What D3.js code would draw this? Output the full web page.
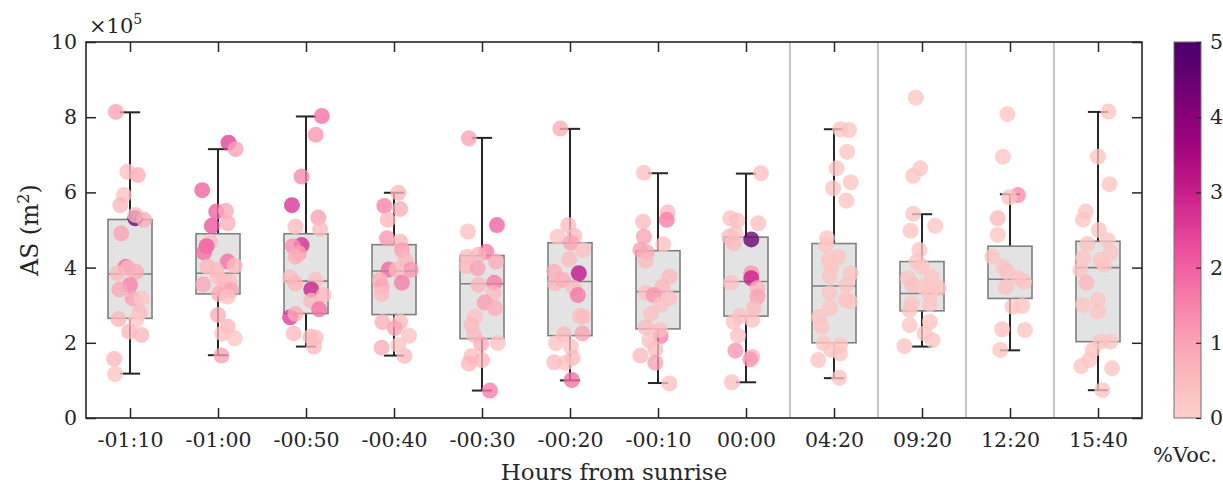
<!DOCTYPE html>
<html><head><meta charset="utf-8">
<script src="https://cdn.jsdelivr.net/npm/d3@7"></script>
<style>body{margin:0;background:#fff}svg{display:block}text{font-family:"DejaVu Serif","Liberation Serif",serif;fill:#262626}</style>
</head><body><svg id="c" width="1223" height="486"></svg>
<script>
const categories = ["-01:10","-01:00","-00:50","-00:40","-00:30","-00:20","-00:10","00:00","04:20","09:20","12:20","15:40"];
const yTicks = [0,2,4,6,8,10];
const cbTicks = [0,1,2,3,4,5];
// box statistics (x1e5 m^2)
const whiskerLow  = [1.18,1.67,1.90,1.66,0.73,1.00,0.93,0.95,1.06,1.90,1.80,0.74];
const q1          = [2.65,3.30,2.78,2.75,2.11,2.19,2.37,2.71,2.00,2.85,3.18,2.03];
const median      = [3.83,3.85,3.64,3.91,3.57,3.63,3.36,3.63,3.51,3.31,3.69,4.00];
const q3          = [5.28,4.90,4.90,4.61,4.32,4.66,4.45,4.81,4.64,4.16,4.57,4.70];
const whiskerHigh = [8.13,7.15,8.02,5.99,7.45,7.69,6.51,6.50,7.68,5.42,5.95,8.14];
// points per category: [jitter (category units), AS (x1e5), %Voc]
const pts0 = [[-0.16,8.14,1.0],[-0.03,6.55,0.4],[0.09,6.46,0.8],[-0.07,5.93,0.4],[-0.11,5.66,0.6],[0.06,5.31,4.5],[0.06,5.40,0.5],[0.16,5.27,0.8],[-0.10,4.91,1.0],[-0.05,4.02,1.8],[-0.02,3.99,0.6],[-0.14,3.85,0.5],[0.07,3.89,0.8],[0.00,3.54,1.5],[-0.12,3.42,0.9],[0.03,3.18,1.0],[0.13,3.18,0.3],[0.11,2.80,0.5],[-0.13,2.63,0.6],[0.07,2.61,0.2],[-0.01,2.30,0.6],[0.13,2.21,0.6],[-0.18,1.57,0.6],[-0.17,1.17,0.3]];
const pts1 = [[0.12,7.32,2.5],[0.20,7.15,1.0],[-0.18,6.06,2.0],[-0.02,5.49,2.0],[0.09,5.51,0.9],[0.11,5.18,0.8],[-0.07,5.11,2.2],[-0.09,4.69,0.5],[-0.13,4.57,2.1],[-0.16,4.40,1.8],[0.11,4.16,1.8],[0.19,4.05,0.5],[-0.12,4.02,0.6],[-0.02,3.94,0.5],[-0.17,3.55,0.9],[0.00,3.76,0.4],[0.07,3.63,0.5],[0.13,3.63,0.4],[0.05,3.40,0.6],[0.15,3.40,1.0],[0.01,3.30,0.8],[0.11,3.23,0.4],[0.00,2.74,0.8],[0.11,2.43,0.6],[0.05,2.25,0.4],[0.19,2.12,0.3],[0.04,1.66,1.0]];
const pts2 = [[0.18,8.03,1.8],[0.11,7.53,1.2],[-0.05,6.42,1.4],[-0.16,5.66,2.7],[0.14,5.33,1.0],[-0.12,5.09,0.5],[0.16,5.02,0.5],[-0.05,4.60,2.8],[-0.15,4.57,1.3],[-0.08,4.38,1.0],[-0.12,4.29,0.8],[-0.18,3.74,0.5],[-0.12,3.58,0.6],[0.11,3.67,0.4],[0.06,3.42,3.0],[0.20,3.27,0.5],[0.06,3.12,0.6],[0.15,2.89,1.8],[-0.18,2.68,2.6],[-0.12,2.77,0.8],[-0.14,2.25,0.5],[0.05,2.16,0.5],[0.11,2.14,0.5],[0.09,1.90,0.5]];
const pts3 = [[0.05,5.99,0.6],[-0.11,5.64,1.5],[0.07,5.56,0.8],[-0.07,5.27,0.6],[-0.08,4.78,1.2],[0.07,4.69,0.6],[0.09,4.47,1.0],[0.13,4.20,0.6],[0.19,3.94,1.2],[-0.06,3.95,1.9],[0.03,3.94,0.5],[-0.16,3.67,0.8],[0.09,3.60,1.6],[-0.14,3.49,0.9],[-0.14,3.30,0.5],[-0.13,2.55,0.8],[0.07,2.56,0.5],[0.01,2.39,1.0],[0.17,2.19,0.4],[-0.14,1.87,0.8],[0.12,1.65,0.5],[0.05,1.94,0.3]];
const pts4 = [[-0.15,7.44,1.0],[0.17,5.13,2.0],[-0.16,4.96,0.4],[0.05,4.42,1.6],[-0.17,4.29,0.5],[-0.04,4.34,0.6],[0.16,4.16,0.8],[-0.18,4.04,0.5],[-0.05,3.98,1.0],[0.14,3.60,1.6],[-0.04,3.54,0.6],[0.13,3.32,0.5],[0.03,3.07,1.1],[0.15,2.92,0.8],[-0.08,2.69,0.4],[-0.12,2.47,0.5],[-0.09,2.21,0.5],[0.18,2.00,0.4],[-0.01,1.97,0.8],[-0.12,1.64,0.5],[-0.15,1.45,0.6],[0.00,1.54,0.6],[0.09,0.73,1.6]];
const pts5 = [[-0.11,7.70,0.8],[-0.02,5.13,0.5],[-0.14,4.82,0.4],[0.05,4.84,0.5],[0.01,4.66,1.0],[0.15,4.47,0.4],[-0.01,4.22,0.5],[0.10,3.85,3.2],[-0.18,3.89,0.8],[-0.17,3.58,0.6],[-0.08,3.67,0.8],[0.05,3.45,0.5],[0.09,3.27,1.7],[0.11,2.71,0.4],[0.15,2.69,0.5],[0.14,2.25,1.0],[-0.07,2.23,0.5],[-0.16,1.99,0.4],[0.01,1.90,0.3],[0.03,1.60,0.5],[-0.18,1.48,0.5],[-0.05,1.47,0.4],[0.02,1.01,1.8]];
const pts6 = [[-0.16,6.52,0.4],[0.11,5.47,0.5],[0.10,5.27,1.6],[-0.17,5.22,0.5],[-0.16,4.82,1.0],[0.06,4.62,0.4],[-0.20,4.47,1.1],[-0.13,4.41,0.9],[-0.14,4.18,0.5],[0.13,3.76,0.5],[0.05,3.49,0.6],[-0.14,3.33,0.4],[-0.05,3.27,1.2],[0.13,3.18,0.4],[0.03,3.01,0.4],[-0.08,2.77,0.4],[-0.14,2.41,0.5],[0.03,2.18,1.6],[0.02,2.34,0.4],[-0.10,2.06,0.4],[-0.03,1.83,0.5],[-0.20,1.66,0.5],[-0.03,1.47,1.0],[0.13,0.92,0.4]];
const pts7 = [[0.17,6.51,0.4],[-0.18,5.31,0.4],[-0.10,5.25,0.4],[0.14,5.18,0.4],[-0.19,4.82,0.5],[-0.12,4.91,0.4],[-0.14,4.65,0.5],[0.06,4.75,4.5],[0.06,3.85,1.2],[0.06,3.72,3.0],[-0.17,3.60,0.4],[0.13,3.45,0.6],[0.13,3.23,1.0],[0.09,2.92,0.5],[-0.07,2.71,0.4],[-0.14,2.56,0.4],[0.07,2.61,0.4],[-0.09,2.19,0.4],[-0.12,1.79,1.2],[0.07,1.63,0.5],[0.05,1.56,1.2],[-0.16,0.95,0.4]];
const pts8 = [[0.07,7.68,0.3],[0.17,7.66,0.3],[0.15,7.08,0.3],[0.03,6.64,0.3],[0.19,6.27,0.3],[-0.01,6.11,0.3],[0.14,5.78,0.3],[-0.08,4.78,0.3],[-0.09,4.60,0.3],[0.05,4.29,0.3],[-0.06,4.20,0.3],[0.19,3.85,0.3],[-0.03,4.03,0.3],[-0.05,3.76,0.3],[0.14,3.54,0.3],[-0.05,3.32,0.3],[0.13,3.14,0.3],[0.18,3.10,0.3],[-0.05,2.92,0.3],[-0.17,2.68,0.3],[-0.14,2.43,0.3],[-0.12,1.99,0.3],[0.07,1.94,0.3],[-0.03,1.81,0.3],[0.07,1.72,0.3],[-0.18,1.54,0.3],[0.06,1.07,0.3]];
const pts9 = [[-0.07,8.52,0.3],[-0.02,6.64,0.3],[-0.10,6.44,0.3],[-0.10,5.43,0.3],[0.15,5.11,0.3],[-0.13,4.98,0.3],[-0.03,4.47,0.3],[-0.06,4.16,0.3],[0.00,4.03,0.3],[0.11,3.76,0.3],[-0.16,3.72,0.3],[-0.11,3.54,0.4],[0.01,3.49,0.3],[0.19,3.45,0.3],[0.09,3.32,0.3],[-0.12,3.05,0.3],[0.09,3.03,0.3],[-0.14,2.87,0.3],[0.09,2.56,0.3],[-0.14,2.47,0.3],[0.03,2.25,0.3],[0.12,2.07,0.3],[-0.20,1.91,0.3]];
const pts10 = [[-0.03,8.08,0.3],[-0.08,6.95,0.3],[0.09,5.93,1.4],[-0.01,5.87,0.3],[-0.14,5.31,0.6],[-0.14,4.87,0.3],[-0.20,4.29,0.3],[-0.08,4.03,0.3],[-0.03,3.89,0.4],[0.09,3.72,0.3],[0.16,3.63,0.3],[-0.05,3.48,0.4],[0.03,2.96,0.3],[0.14,2.98,0.3],[-0.09,2.36,0.4],[0.17,2.34,0.3],[-0.11,1.81,0.3]];
const pts11 = [[0.12,8.15,0.3],[0.00,6.95,0.3],[0.13,6.22,0.3],[-0.14,5.49,0.3],[-0.17,5.28,0.3],[0.01,5.00,0.3],[0.11,4.73,0.3],[-0.12,4.63,0.3],[0.14,4.40,0.3],[-0.17,4.25,0.3],[0.03,4.20,0.3],[0.07,4.07,0.3],[-0.20,3.94,0.3],[-0.13,3.60,0.6],[0.00,3.14,0.3],[-0.17,3.01,0.3],[0.00,2.83,0.3],[0.03,2.03,0.3],[0.14,2.03,0.3],[-0.06,1.81,0.3],[-0.10,1.54,0.3],[-0.19,1.38,0.3],[0.16,1.32,0.3],[0.05,0.74,0.3]];
const allPts = [pts0,pts1,pts2,pts3,pts4,pts5,pts6,pts7,pts8,pts9,pts10,pts11];
const separatorsAfter = [7,8,9,10];

const svg = d3.select("#c");
const L=86, R=1142, T=42, B=418;
const x = d3.scaleLinear().domain([-0.5, categories.length-0.5]).range([L,R]);
const y = d3.scaleLinear().domain([0,10]).range([B,T]);
const color = d3.scaleSequential(v => d3.interpolateRdPu(0.2 + 0.8*v)).domain([0,5]);
const ink = "#262626";

// separators
svg.append("g").selectAll("line").data(separatorsAfter).join("line")
  .attr("x1", d=>x(d+0.5)).attr("x2", d=>x(d+0.5)).attr("y1",T).attr("y2",B)
  .attr("stroke","#8a8a8a").attr("stroke-width",1);

const hw = 0.25, cw = 0.115;
const boxes = svg.append("g");
categories.forEach((c,i)=>{
  const g = boxes.append("g");
  g.append("line").attr("x1",x(i)).attr("x2",x(i)).attr("y1",y(whiskerLow[i])).attr("y2",y(q1[i])).attr("stroke",ink).attr("stroke-width",2);
  g.append("line").attr("x1",x(i)).attr("x2",x(i)).attr("y1",y(q3[i])).attr("y2",y(whiskerHigh[i])).attr("stroke",ink).attr("stroke-width",2);
  [whiskerLow[i], whiskerHigh[i]].forEach(v=>g.append("line").attr("x1",x(i-cw)).attr("x2",x(i+cw)).attr("y1",y(v)).attr("y2",y(v)).attr("stroke",ink).attr("stroke-width",2));
  g.append("rect").attr("x",x(i-hw)).attr("width",x(i+hw)-x(i-hw)).attr("y",y(q3[i])).attr("height",y(q1[i])-y(q3[i]))
    .attr("fill","#e3e3e3").attr("stroke","#7f7f7f").attr("stroke-width",1.6);
  g.append("line").attr("x1",x(i-hw)).attr("x2",x(i+hw)).attr("y1",y(median[i])).attr("y2",y(median[i])).attr("stroke","#7f7f7f").attr("stroke-width",1.6);
});

const ptsG = svg.append("g");
allPts.forEach((arr,i)=>{
  ptsG.append("g").selectAll("circle").data(arr).join("circle")
    .attr("cx", d=>x(i+d[0])).attr("cy", d=>y(d[1])).attr("r",8)
    .attr("fill", d=>color(d[2])).attr("fill-opacity",0.78);
});

// axes
const fs = 20.5;
const xb = svg.append("g").attr("transform",`translate(0,${B})`)
  .call(d3.axisBottom(x).tickValues(d3.range(categories.length)).tickFormat(i=>categories[i]).tickSizeInner(-10).tickSizeOuter(0).tickPadding(14));
const xt = svg.append("g").attr("transform",`translate(0,${T})`)
  .call(d3.axisTop(x).tickValues(d3.range(categories.length)).tickFormat("").tickSizeInner(-10).tickSizeOuter(0));
const yl = svg.append("g").attr("transform",`translate(${L},0)`)
  .call(d3.axisLeft(y).tickValues(yTicks).tickFormat(d=>d).tickSizeInner(-10).tickSizeOuter(0).tickPadding(9));
const yr = svg.append("g").attr("transform",`translate(${R},0)`)
  .call(d3.axisRight(y).tickValues(yTicks).tickFormat("").tickSizeInner(-10).tickSizeOuter(0));
[xb,xt,yl,yr].forEach(g=>{
  g.select(".domain").remove();
  g.selectAll(".tick line").attr("stroke",ink).attr("stroke-width",1.5);
  g.selectAll("text").style("font-size",fs+"px").attr("fill",ink);
});
svg.append("rect").attr("x",L).attr("y",T).attr("width",R-L).attr("height",B-T).attr("fill","none").attr("stroke",ink).attr("stroke-width",1.6);

// exponent
const ex = svg.append("text").attr("x",L+3).attr("y",33).attr("font-size",21).style("font-size","21px");
ex.append("tspan").attr("font-size",21).text("×10");
ex.append("tspan").attr("dy",-9).attr("font-size",14).style("font-size","14px").text("5");

// labels
svg.append("text").attr("x",(L+R)/2).attr("y",480).attr("text-anchor","middle").style("font-size","23px").text("Hours from sunrise");
const yt = svg.append("text").attr("transform",`translate(38,${(T+B)/2}) rotate(-90)`).attr("text-anchor","middle").style("font-size","23.5px");
yt.append("tspan").text("AS (m");
yt.append("tspan").attr("dy",-9).style("font-size","16px").text("2");
yt.append("tspan").attr("dy",9).text(")");

// colorbar
const cbX=1174, cbW=27;
const cy = d3.scaleLinear().domain([0,5]).range([B,T]);
const defs = svg.append("defs");
const grad = defs.append("linearGradient").attr("id","cbg").attr("x1",0).attr("x2",0).attr("y1",1).attr("y2",0);
d3.range(0,1.0001,0.05).forEach(t=>grad.append("stop").attr("offset",t).attr("stop-color",color(t*5)));
svg.append("rect").attr("x",cbX).attr("y",T).attr("width",cbW).attr("height",B-T).attr("fill","url(#cbg)").attr("stroke","#7a6f6f").attr("stroke-width",1);
const cba = svg.append("g").attr("transform",`translate(${cbX+cbW},0)`)
  .call(d3.axisRight(cy).tickValues(cbTicks).tickFormat(d=>d).tickSizeInner(-5).tickSizeOuter(0).tickPadding(9));
cba.select(".domain").remove();
cba.selectAll(".tick line").attr("stroke",ink).attr("stroke-width",1.2);
cba.selectAll("text").style("font-size",fs+"px").attr("fill",ink);
svg.append("text").attr("x",1153).attr("y",462).attr("text-anchor","start").style("font-size","21px").text("%Voc.");
</script></body></html>
